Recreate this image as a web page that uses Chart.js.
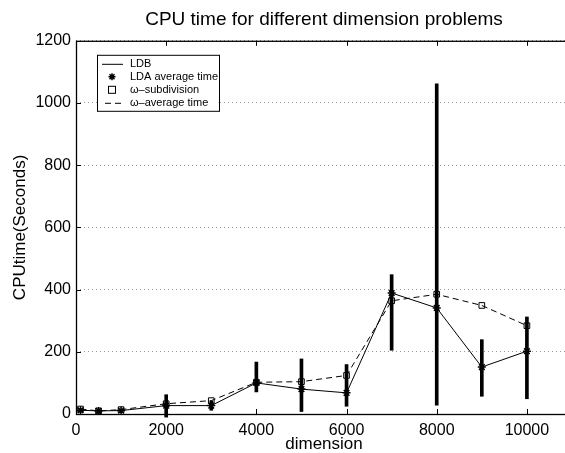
<!DOCTYPE html>
<html>
<head>
<meta charset="utf-8">
<script src="https://cdn.jsdelivr.net/npm/chart.js@4.4.0/dist/chart.umd.min.js"></script>
<style>
  body { margin: 0; background: #fff; overflow: hidden; }
  #wrap { position: absolute; left: 0; top: 0; width: 600px; height: 453px; }
</style>
</head>
<body>
<div id="wrap"><canvas id="cpuChart"></canvas></div>
<script>
const dims = [100, 500, 1000, 2000, 3000, 4000, 5000, 6000, 7000, 8000, 9000, 10000];
const ldbTime = [12, 10, 11, 27, 27, 100, 80, 68, 389, 341, 151, 202];
const omegaTime = [16, 10, 14, 33, 43, 102, 104, 124, 364, 385, 349, 284];

// spread of the LDA runs (vertical bars)
const errDims = [2000, 3000, 4000, 5000, 6000, 7000, 8000, 9000, 10000];
const errLow = [-10, 12, 71, 8, 25, 205, 28, 57, 49];
const errHigh = [62, 42, 167, 177, 159, 448, 1062, 239, 312];

const xTicks = [0, 2000, 4000, 6000, 8000, 10000];
const yTicks = [0, 200, 400, 600, 800, 1000, 1200];
const legendLabels = ['LDB', 'LDA average time', 'ω–subdivision', 'ω–average time'];

const FONT = "'Liberation Sans', Arial, Helvetica, sans-serif";

function pts(xs, ys) {
    return xs.map((x, i) => ({ x: x, y: ys[i] }));
}

function drawStar(ctx, x, y, r) {
    ctx.beginPath();
    for (let k = 0; k < 4; k++) {
        const a = k * Math.PI / 4;
        ctx.moveTo(x - r * Math.cos(a), y - r * Math.sin(a));
        ctx.lineTo(x + r * Math.cos(a), y + r * Math.sin(a));
    }
    ctx.stroke();
}

// matlab-like box, inward ticks and the boxed legend
const matlabFrame = {
    id: 'matlabFrame',
    afterDraw(chart) {
        const ctx = chart.ctx;
        const a = chart.chartArea;
        const xs = chart.scales.x, ys = chart.scales.y;
        ctx.save();
        ctx.strokeStyle = '#000';
        ctx.lineWidth = 1.3;
        ctx.strokeRect(a.left + 0.5, a.top + 0.5, a.right - a.left, a.bottom - a.top);
        ctx.lineWidth = 1;
        ctx.beginPath();
        xTicks.forEach(v => {
            const px = Math.round(xs.getPixelForValue(v)) + 0.5;
            ctx.moveTo(px, a.bottom); ctx.lineTo(px, a.bottom - 5);
            ctx.moveTo(px, a.top); ctx.lineTo(px, a.top + 5);
        });
        yTicks.forEach(v => {
            const py = Math.round(ys.getPixelForValue(v)) + 0.5;
            ctx.moveTo(a.left, py); ctx.lineTo(a.left + 5, py);
        });
        ctx.stroke();

        // legend
        const lx = a.left + 21, ly = a.top + 14, lw = 122, lh = 56;
        ctx.fillStyle = '#fff';
        ctx.fillRect(lx, ly, lw, lh);
        ctx.strokeRect(lx + 0.5, ly + 0.5, lw, lh);
        ctx.font = '11px ' + FONT;
        ctx.fillStyle = '#000';
        ctx.textBaseline = 'middle';
        const sx = lx + 15, tx = lx + 33;
        legendLabels.forEach((lab, i) => {
            const y = ly + 9 + i * 13;
            ctx.fillText(lab, tx, y);
        });
        let y = ly + 9;
        ctx.beginPath(); ctx.moveTo(lx + 5, y + 0.5); ctx.lineTo(lx + 26, y + 0.5); ctx.stroke();
        y += 13;
        ctx.lineWidth = 1.5;
        drawStar(ctx, sx, y, 3.5);
        y += 13;
        ctx.lineWidth = 1;
        ctx.strokeRect(sx - 3.5, y - 3.5, 7, 7);
        y += 13;
        ctx.setLineDash([6, 4]);
        ctx.beginPath(); ctx.moveTo(lx + 8, y + 0.5); ctx.lineTo(lx + 26, y + 0.5); ctx.stroke();
        ctx.restore();
    }
};

const ctx = document.getElementById('cpuChart').getContext('2d');
new Chart(ctx, {
    type: 'line',
    data: {
        datasets: [
            {
                type: 'bar',
                label: 'spread',
                data: errDims.map((x, i) => ({ x: x, y: [errLow[i], errHigh[i]] })),
                backgroundColor: '#000',
                barThickness: 3,
                clip: false,
                order: 5
            },
            {
                label: legendLabels[0],
                data: pts(dims, ldbTime),
                borderColor: '#000',
                borderWidth: 1,
                pointRadius: 0,
                tension: 0,
                order: 4
            },
            {
                label: legendLabels[1],
                data: pts(dims, ldbTime),
                showLine: false,
                pointStyle: 'star',
                pointRadius: 4,
                borderColor: '#000',
                backgroundColor: '#000',
                pointBorderWidth: 1.5,
                order: 1
            },
            {
                label: legendLabels[2],
                data: pts(dims, omegaTime),
                showLine: false,
                pointStyle: 'rect',
                pointRadius: 4,
                borderColor: '#000',
                backgroundColor: 'rgba(0,0,0,0)',
                pointBorderWidth: 1,
                order: 2
            },
            {
                label: legendLabels[3],
                data: pts(dims, omegaTime),
                borderColor: '#000',
                borderWidth: 1,
                borderDash: [6, 4],
                pointRadius: 0,
                tension: 0,
                order: 3
            }
        ]
    },
    options: {
        responsive: true,
        maintainAspectRatio: false,
        animation: false,
        layout: { padding: { left: 0, right: 28, top: 0, bottom: 0 } },
        plugins: {
            legend: { display: false },
            tooltip: { enabled: false },
            title: {
                display: true,
                fullSize: false,
                text: 'CPU time for different dimension problems',
                color: '#000',
                font: { family: FONT, size: 19, weight: 'normal' },
                padding: { top: 8, bottom: 10 }
            }
        },
        scales: {
            x: {
                type: 'linear',
                min: 0,
                max: 11000,
                offset: false,
                afterBuildTicks: s => { s.ticks = xTicks.map(v => ({ value: v })); },
                afterFit: s => { s.height = 39; },
                grid: { display: false, drawTicks: false },
                border: { display: false },
                ticks: {
                    color: '#000', padding: 7, maxRotation: 0,
                    font: { family: FONT, size: 16 },
                    callback: v => String(v)
                },
                title: {
                    display: true,
                    text: 'dimension',
                    color: '#000',
                    padding: { top: 0, bottom: -2 },
                    font: { family: FONT, size: 17 }
                }
            },
            y: {
                min: 0,
                max: 1200,
                afterBuildTicks: s => { s.ticks = yTicks.map(v => ({ value: v })); },
                afterFit: s => { s.width = 76; },
                grid: { color: '#999', lineWidth: 1, drawTicks: false },
                border: { display: false, dash: [1, 3] },
                ticks: {
                    color: '#000', padding: 5,
                    font: { family: FONT, size: 16 },
                    callback: v => String(v)
                },
                title: {
                    display: true,
                    text: 'CPUtime(Seconds)',
                    color: '#000',
                    padding: { top: 10, bottom: 0 },
                    font: { family: FONT, size: 17 }
                }
            }
        }
    },
    plugins: [matlabFrame]
});
</script>
</body>
</html>
